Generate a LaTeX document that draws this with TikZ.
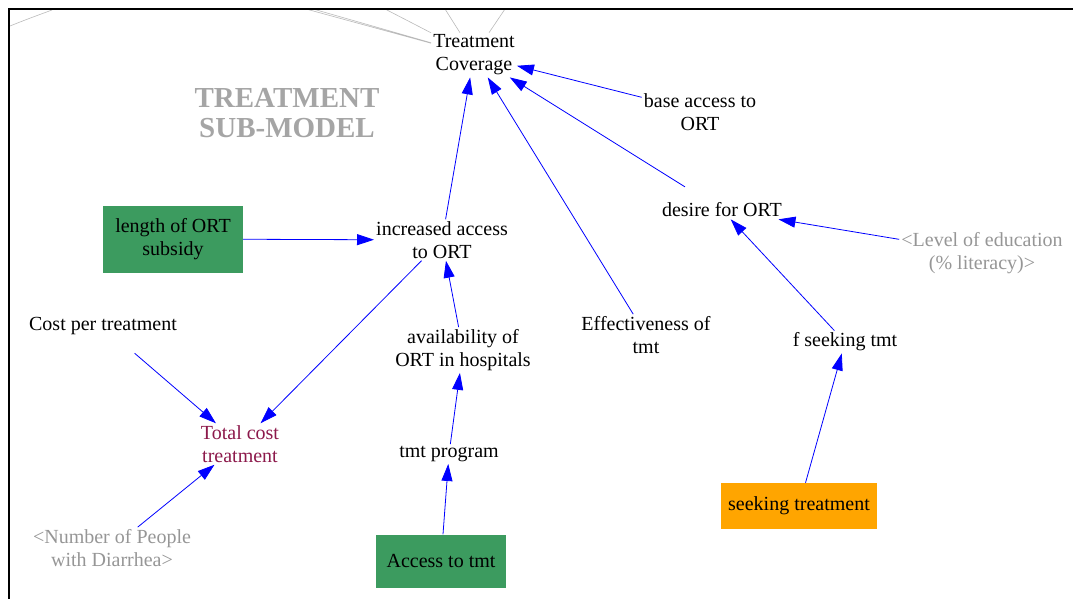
\documentclass[tikz,border=0pt]{standalone}
\usepackage{fontspec}
\setmainfont{Liberation Serif}
\usetikzlibrary{arrows.meta}
\definecolor{linkblue}{RGB}{0,0,255}
\definecolor{shadowgray}{RGB}{150,150,150}
\definecolor{titlegray}{RGB}{165,165,165}
\definecolor{costred}{RGB}{140,25,75}
\definecolor{levgreen}{RGB}{60,155,95}
\definecolor{levorange}{RGB}{255,165,0}
\begin{document}
\begin{tikzpicture}[x=1pt, y=-1pt,
    every node/.style={align=center, inner sep=2pt, font=\fontsize{20}{23}\selectfont},
    shadowvar/.style={text=shadowgray},
    lever/.style={fill=levgreen, minimum width=140pt, minimum height=67pt},
    link/.style={linkblue, line width=0.8pt, -{Triangle[length=17pt,width=11pt]}},
    farlink/.style={gray!55, line width=0.6pt}]
    \useasboundingbox (0,0) rectangle (1073,599);

    \node[font=\fontsize{29}{30}\selectfont\bfseries, text=titlegray] (title) at (287,113) {TREATMENT\\SUB-MODEL};

    \node (tc) at (474,55) {Treatment\\Coverage};
    \node (base) at (700,112) {base access to\\ORT};
    \node (desire) at (722,210) {desire for ORT};
    \node[shadowvar] (edu) at (982,253) {<Level of education\\(\% literacy)>};
    \node[lever] (subsidy) at (173,239) {length of ORT\\subsidy};
    \node (incr) at (442,240) {increased access\\to ORT};
    \node (cost) at (103,326) {Cost per treatment};
    \node (avail) at (463,350) {availability of\\ORT in hospitals};
    \node (eff) at (646,335) {Effectiveness of\\tmt};
    \node (fseek) at (845,342) {f seeking tmt};
    \node[text=costred] (total) at (240,444) {Total cost\\treatment};
    \node (prog) at (449,454) {tmt program};
    \node[shadowvar] (people) at (112,548) {<Number of People\\with Diarrhea>};
    \node[lever, minimum width=130pt, minimum height=53pt] (access) at (441,561) {Access to tmt};
    \node[lever, fill=levorange, minimum width=156pt, minimum height=46pt] (seek) at (799,506) {seeking treatment};

    % links from outside the view
    \coordinate (o1) at (306,9);
    \coordinate (o2) at (313,9);
    \coordinate (o3) at (385,9);
    \coordinate (o4) at (445,9);
    \coordinate (o5) at (505,9);
    \coordinate (o6) at (10,26);
    \coordinate (o7) at (52,10);
    \draw[farlink] (o1)--(tc) (o2)--(tc) (o3)--(tc) (o4)--(tc) (o5)--(tc);
    \draw[farlink] (o6) .. controls (25,20) .. (o7);

    \draw[link] (base)--(tc);
    \draw[link, shorten <=26pt] (desire)--(tc);
    \draw[link] (eff)--(tc);
    \draw[link] (incr)--(tc);
    \draw[link] (edu)--(desire);
    \draw[link] (fseek)--(desire);
    \draw[link] (seek)--(fseek);
    \draw[link] (subsidy)--(incr);
    \draw[link] (avail)--(incr);
    \draw[link] (prog)--(avail);
    \draw[link] (access)--(prog);
    \draw[link] (incr)--(total);
    \draw[link, shorten <=25pt] (cost)--(total);
    \draw[link] (people)--(total);

    % frame
    \draw[line width=2.5pt] (9,599)--(9,9)--(1073,9);
\end{tikzpicture}
\end{document}
